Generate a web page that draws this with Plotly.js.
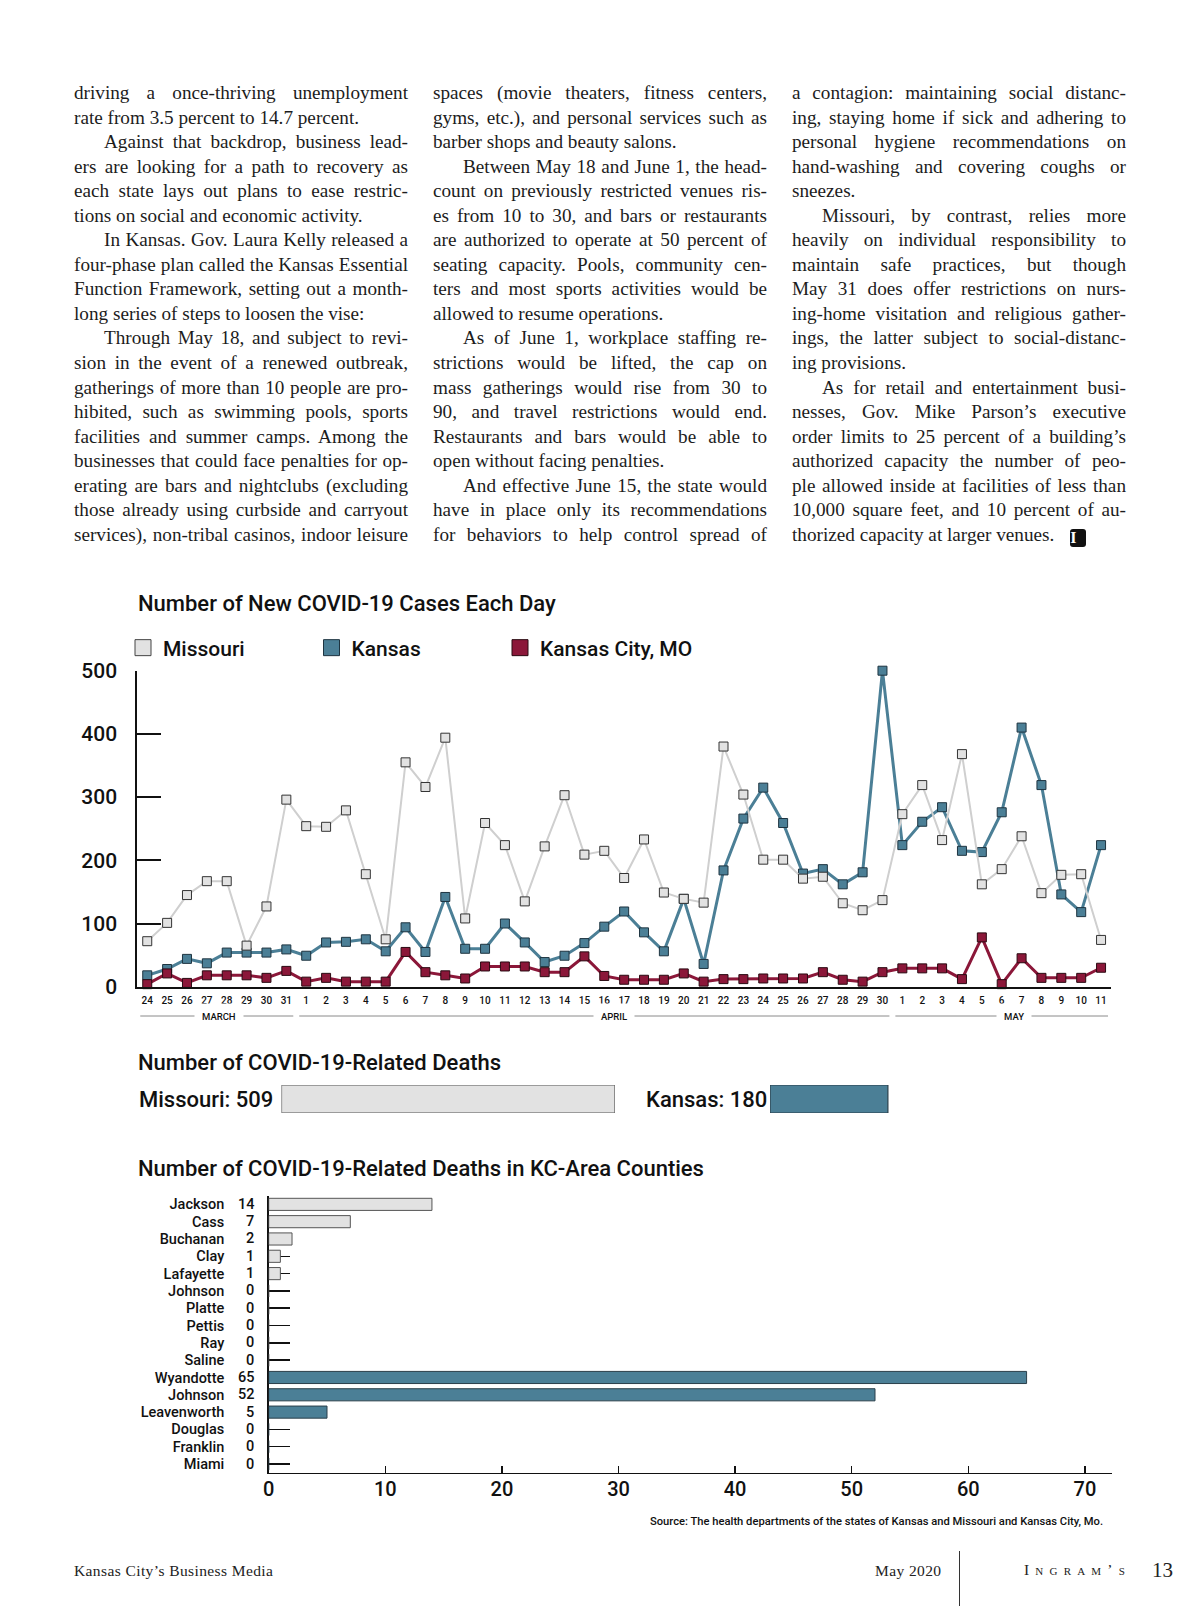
<!DOCTYPE html>
<html>
<head>
<meta charset="utf-8">
<script src="https://cdn.plot.ly/plotly-3.0.1.min.js"></script>
<style>
html,body{margin:0;padding:0;background:#fff;}
#page{position:relative;width:1200px;height:1606px;overflow:hidden;background:#fff;}
#chart{position:absolute;left:0;top:0;width:1200px;height:1606px;}
.col{position:absolute;top:81px;width:334px;font-family:"Liberation Serif","DejaVu Serif",serif;font-size:19.2px;line-height:24.55px;color:#1c1c1c;z-index:5;}
.ln{white-space:nowrap;text-align:justify;text-align-last:justify;height:24.55px;}
.ln.last{text-align:left;text-align-last:left;}
.ln.ind{padding-left:30px;}
.badge{display:inline-block;width:16px;height:18px;background:#111;color:#fff;border-radius:3px;font-family:"Liberation Serif",serif;font-weight:bold;font-size:16px;line-height:18px;text-align:center;vertical-align:-2px;margin-left:16px;}
.foot{position:absolute;font-family:"Liberation Serif",serif;color:#222;z-index:5;white-space:nowrap;}
#vline{position:absolute;left:959px;top:1551px;width:1px;height:55px;background:#333;}
</style>
</head>
<body>
<div id="page">
  <div id="chart"></div>
  <div class="col" id="col1" style="left:74px;"></div>
  <div class="col" id="col2" style="left:433px;"></div>
  <div class="col" id="col3" style="left:792px;"></div>
  <div class="foot" style="left:74px;top:1562px;font-size:15.5px;letter-spacing:0.4px;">Kansas City’s Business Media</div>
  <div class="foot" style="left:875px;top:1562px;font-size:15.5px;letter-spacing:0.4px;">May 2020</div>
  <div id="vline"></div>
  <div class="foot" style="left:1024px;top:1561px;font-size:15.5px;letter-spacing:6.2px;font-variant:small-caps;">Ingram’s</div>
  <div class="foot" style="left:1152px;top:1558px;font-size:21px;">13</div>
</div>
<script>
// ---------- article text ----------
const column1 = [
  {indent:false, end:true, lines:["driving a once-thriving unemployment","rate from 3.5 percent to 14.7 percent."]},
  {indent:true, end:true, lines:["Against that backdrop, business lead-","ers are looking for a path to recovery as","each state lays out plans to ease restric-","tions on social and economic activity."]},
  {indent:true, end:true, lines:["In Kansas. Gov. Laura Kelly released a","four-phase plan called the Kansas Essential","Function Framework, setting out a month-","long series of steps to loosen the vise:"]},
  {indent:true, end:false, lines:["Through May 18, and subject to revi-","sion in the event of a renewed outbreak,","gatherings of more than 10 people are pro-","hibited, such as swimming pools, sports","facilities and summer camps. Among the","businesses that could face penalties for op-","erating are bars and nightclubs (excluding","those already using curbside and carryout","services), non-tribal casinos, indoor leisure"]}
];
const column2 = [
  {indent:false, end:true, lines:["spaces (movie theaters, fitness centers,","gyms, etc.), and personal services such as","barber shops and beauty salons."]},
  {indent:true, end:true, lines:["Between May 18 and June 1, the head-","count on previously restricted venues ris-","es from 10 to 30, and bars or restaurants","are authorized to operate at 50 percent of","seating capacity. Pools, community cen-","ters and most sports activities would be","allowed to resume operations."]},
  {indent:true, end:true, lines:["As of June 1, workplace staffing re-","strictions would be lifted, the cap on","mass gatherings would rise from 30 to","90, and travel restrictions would end.","Restaurants and bars would be able to","open without facing penalties."]},
  {indent:true, end:false, lines:["And effective June 15, the state would","have in place only its recommendations","for behaviors to help control spread of"]}
];
const column3 = [
  {indent:false, end:true, lines:["a contagion: maintaining social distanc-","ing, staying home if sick and adhering to","personal hygiene recommendations on","hand-washing and covering coughs or","sneezes."]},
  {indent:true, end:true, lines:["Missouri, by contrast, relies more","heavily on individual responsibility to","maintain safe practices, but though","May 31 does offer restrictions on nurs-","ing-home visitation and religious gather-","ings, the latter subject to social-distanc-","ing provisions."]},
  {indent:true, end:true, badge:true, lines:["As for retail and entertainment busi-","nesses, Gov. Mike Parson’s executive","order limits to 25 percent of a building’s","authorized capacity the number of peo-","ple allowed inside at facilities of less than","10,000 square feet, and 10 percent of au-","thorized capacity at larger venues."]}
];
function fillColumn(id, paras){
  const el = document.getElementById(id);
  paras.forEach(p=>{
    p.lines.forEach((t,i)=>{
      const d = document.createElement('div');
      d.className = 'ln';
      if (p.indent && i===0) d.classList.add('ind');
      if (p.end && i===p.lines.length-1) d.classList.add('last');
      d.textContent = t;
      if (p.badge && i===p.lines.length-1){
        const b = document.createElement('span'); b.className='badge'; b.textContent='I'; d.appendChild(b);
      }
      el.appendChild(d);
    });
  });
}
fillColumn('col1', column1); fillColumn('col2', column2); fillColumn('col3', column3);

// ---------- chart data ----------
const dayLabels = ['24','25','26','27','28','29','30','31',
  '1','2','3','4','5','6','7','8','9','10','11','12','13','14','15','16','17','18','19','20','21','22','23','24','25','26','27','28','29','30',
  '1','2','3','4','5','6','7','8','9','10','11'];
const monthNames = ['MARCH','APRIL','MAY'];
const monthDayCounts = [8, 30, 11];
const missouriCases = [72,101,145,167,167,65,127,296,
  254,253,279,178,75,355,316,394,108,259,224,135,222,303,209,215,172,233,149,139,133,380,304,201,201,171,174,132,121,137,
  273,319,232,368,162,186,238,148,177,178,74];
const kansasCases = [18,28,44,37,54,54,54,59,
  49,70,71,75,56,94,55,142,60,60,100,70,39,49,69,95,119,86,56,139,36,184,266,315,259,179,186,162,181,500,
  224,261,284,215,213,276,410,319,146,118,224];
const kcCases = [4,21,6,18,18,18,14,25,
  8,14,8,8,8,55,23,18,13,32,32,32,23,23,48,17,11,11,11,21,8,12,12,13,13,13,23,11,8,23,
  29,29,29,12,78,4,45,14,14,14,30];
const caseTicks = [0,100,200,300,400,500];

const deathStates = ['Missouri','Kansas'];
const deathTotals = [509, 180];

const counties = ['Jackson','Cass','Buchanan','Clay','Lafayette','Johnson','Platte','Pettis','Ray','Saline',
  'Wyandotte','Johnson','Leavenworth','Douglas','Franklin','Miami'];
const countyStates = ['MO','MO','MO','MO','MO','MO','MO','MO','MO','MO','KS','KS','KS','KS','KS','KS'];
const countyDeaths = [14,7,2,1,1,0,0,0,0,0,65,52,5,0,0,0];
const countyTicks = [0,10,20,30,40,50,60,70];

// ---------- styling ----------
const W = 1200, H = 1606;
const px = v => v / W;
const py = v => 1 - v / H;
const C_MO = '#e2e2e2', C_MO_LINE = '#cfcfcf', C_KS = '#4b7f96', C_KC = '#8b1739', C_DARK = '#111';
const F = 'Roboto, "DejaVu Sans", sans-serif';

const xIdx = dayLabels.map((_, i) => i);
const nDays = dayLabels.length;

const traces = [];
function series(name, ys, lineColor, lineW, fill, outline){
  return {type:'scatter', mode:'lines+markers', x:xIdx, y:ys, name:name, showlegend:false,
    xaxis:'x', yaxis:'y', cliponaxis:false, hoverinfo:'skip',
    line:{color:lineColor, width:lineW},
    marker:{symbol:'square', size:9, color:fill, line:{color:outline, width:1}}};
}
traces.push(series('Kansas', kansasCases, C_KS, 3, C_KS, '#1e3440'));
traces.push(series('Kansas City, MO', kcCases, C_KC, 3, C_KC, '#2a0a12'));
traces.push(series('Missouri', missouriCases, C_MO_LINE, 2, C_MO, '#333'));
// legend entries (one legend box per entry)
const legendItems = [['Missouri', C_MO, '#444'], ['Kansas', C_KS, '#1e3440'], ['Kansas City, MO', C_KC, '#2a0a12']];
const legendLefts = [123, 311.5, 500];
legendItems.forEach(([n,c,o], i)=>{
  traces.push({type:'scatter', mode:'markers', x:[null], y:[null], name:n, xaxis:'x', yaxis:'y', hoverinfo:'skip',
    legend: i===0 ? 'legend' : 'legend'+(i+1),
    marker:{symbol:'square', size:16, color:c, line:{color:o, width:1}}});
});
// state death totals
const maxTotal = Math.max(...deathTotals);
const pxPerDeath = 0.655;
const deathBarStarts = [281.5, 770];
const deathLabelX = [137, 644];
const deathColors = [C_MO, C_KS];
const deathOutlines = ['#555', '#2a3f4a'];
deathStates.forEach((s,i)=>{
  traces.push({type:'bar', orientation:'h', x:[deathTotals[i]], y:[s], width:[1], showlegend:false, hoverinfo:'skip',
    xaxis:'x'+(3+i), yaxis:'y'+(3+i),
    marker:{color:deathColors[i], line:{color:deathOutlines[i], width:1.2}}});
});
// county bars
const countyKeys = counties.map((c,i)=>c+' ('+countyStates[i]+')');
['MO','KS'].forEach((st)=>{
  const idx = countyStates.map((s,i)=>s===st?i:-1).filter(i=>i>=0);
  traces.push({type:'bar', orientation:'h', x:idx.map(i=>countyDeaths[i]), y:idx.map(i=>countyKeys[i]),
    xaxis:'x5', yaxis:'y5', showlegend:false, hoverinfo:'skip', width:0.7,
    marker:{color: st==='MO'?C_MO:C_KS, line:{color: st==='MO'?'#555':'#2a3f4a', width:1}}});
});

// month separators on the line chart
const shapes = [];
const annotations = [];
const monthLabelShift = [2, 20, 12];
let start = 0;
const monthY = py(1016);
monthNames.forEach((m,i)=>{
  const a = start - 0.5, b = start + monthDayCounts[i] - 0.5;
  shapes.push({type:'line', xref:'x', yref:'paper', x0:a+0.15, x1:b-0.15, y0:monthY, y1:monthY,
    line:{color:'#8a8a8a', width:1}});
  annotations.push({xref:'x', yref:'paper', x:(a+b)/2, y:monthY, xshift:monthLabelShift[i], text:m, showarrow:false,
    bgcolor:'#fff', borderpad:7, font:{family:F, size:9.5, color:C_DARK, weight:500}});
  start += monthDayCounts[i];
});

// titles
const titleFont = {family:F, size:22, color:C_DARK, weight:500};
[['Number of New COVID-19 Cases Each Day', 604],
 ['Number of COVID-19-Related Deaths', 1062],
 ['Number of COVID-19-Related Deaths in KC-Area Counties', 1168]].forEach(([t,y])=>{
  annotations.push({xref:'paper', yref:'paper', x:px(136), y:py(y), xanchor:'left', yanchor:'middle',
    text:t, showarrow:false, font:titleFont});
});
deathStates.forEach((s,i)=>{
  annotations.push({xref:'paper', yref:'paper', x:px(deathLabelX[i]), y:py(1099), xanchor:'left', yanchor:'middle',
    text:s+': '+deathTotals[i], showarrow:false, font:titleFont});
});
countyKeys.forEach((k,i)=>{
  annotations.push({xref:'paper', yref:'y5', x:px(256), y:k, xanchor:'right', yanchor:'middle',
    text:String(countyDeaths[i]), showarrow:false, font:{family:F, size:14.5, color:C_DARK, weight:500}});
});
annotations.push({xref:'paper', yref:'paper', x:px(1105), y:py(1521), xanchor:'right', yanchor:'middle',
  text:'Source: The health departments of the states of Kansas and Missouri and Kansas City, Mo.',
  showarrow:false, font:{family:F, size:11.2, color:C_DARK, weight:500}});

const boundaries = [];
for (let i=0;i<=nDays;i++) boundaries.push(i-0.5);

function legendBox(left){
  return {orientation:'h', x:px(left), y:py(648), xanchor:'left', yanchor:'middle',
    font:{family:F, size:21, color:C_DARK, weight:500},
    bgcolor:'rgba(0,0,0,0)', itemclick:false, itemdoubleclick:false};
}

const layout = {
  width:W, height:H, margin:{l:0,r:0,t:0,b:0},
  paper_bgcolor:'rgba(0,0,0,0)', plot_bgcolor:'rgba(0,0,0,0)',
  showlegend:true,
  legend:legendBox(legendLefts[0]),
  legend2:legendBox(legendLefts[1]),
  legend3:legendBox(legendLefts[2]),
  xaxis:{domain:[px(137.3), px(1111)], anchor:'y', range:[-0.5, nDays-0.5],
    tickmode:'array', tickvals:xIdx, ticktext:dayLabels, ticks:'', showgrid:false, zeroline:false,
    showline:true, linecolor:C_DARK, linewidth:2, ticklabelstandoff:3,
    tickfont:{family:F, size:10, color:C_DARK, weight:500}, fixedrange:true},
  xaxis2:{overlaying:'x', anchor:'y', side:'bottom', range:[-0.5, nDays-0.5],
    tickmode:'array', tickvals:boundaries, ticks:'inside', ticklen:7, tickwidth:1.5, tickcolor:C_DARK,
    showticklabels:false, showgrid:false, zeroline:false, showline:false, fixedrange:true},
  yaxis:{domain:[py(986.7), py(670.7)], anchor:'x', range:[0,500],
    tickmode:'array', tickvals:caseTicks, ticks:'inside', ticklen:24, tickwidth:2, tickcolor:C_DARK,
    showline:true, linecolor:C_DARK, linewidth:2, showgrid:false, zeroline:false, ticklabelstandoff:14,
    tickfont:{family:F, size:21, color:C_DARK, weight:500}, fixedrange:true},
  xaxis3:{domain:[px(deathBarStarts[0]), px(deathBarStarts[0]+maxTotal*pxPerDeath)], anchor:'y3',
    range:[0,maxTotal], visible:false, fixedrange:true},
  yaxis3:{domain:[py(1113), py(1085)], anchor:'x3', range:[-0.5,0.5], visible:false, fixedrange:true},
  xaxis4:{domain:[px(deathBarStarts[1]), px(deathBarStarts[1]+maxTotal*pxPerDeath)], anchor:'y4',
    range:[0,maxTotal], visible:false, fixedrange:true},
  yaxis4:{domain:[py(1113), py(1085)], anchor:'x4', range:[-0.5,0.5], visible:false, fixedrange:true},
  xaxis5:{domain:[px(268.7), px(1111.7)], anchor:'y5', range:[0,72.3],
    tickmode:'array', tickvals:countyTicks, ticks:'inside', ticklen:7, tickwidth:1.5, tickcolor:C_DARK,
    showline:true, linecolor:C_DARK, linewidth:1.5, showgrid:false, zeroline:false, ticklabelstandoff:-2,
    tickfont:{family:F, size:20, color:C_DARK, weight:500}, fixedrange:true},
  yaxis5:{domain:[py(1472.7), py(1195.7)], anchor:'x5', type:'category',
    categoryorder:'array', categoryarray:countyKeys, range:[countyKeys.length-0.5, -0.5],
    tickmode:'array', tickvals:countyKeys, ticktext:counties,
    ticks:'inside', ticklen:21, tickwidth:1.5, tickcolor:C_DARK, layer:'below traces',
    showline:true, linecolor:C_DARK, linewidth:1.5, showgrid:false, zeroline:false, ticklabelstandoff:40,
    tickfont:{family:F, size:14.5, color:C_DARK, weight:500}, fixedrange:true},
  shapes:shapes,
  annotations:annotations
};

Plotly.newPlot('chart', traces, layout, {displayModeBar:false, staticPlot:true});
</script>
</body>
</html>
